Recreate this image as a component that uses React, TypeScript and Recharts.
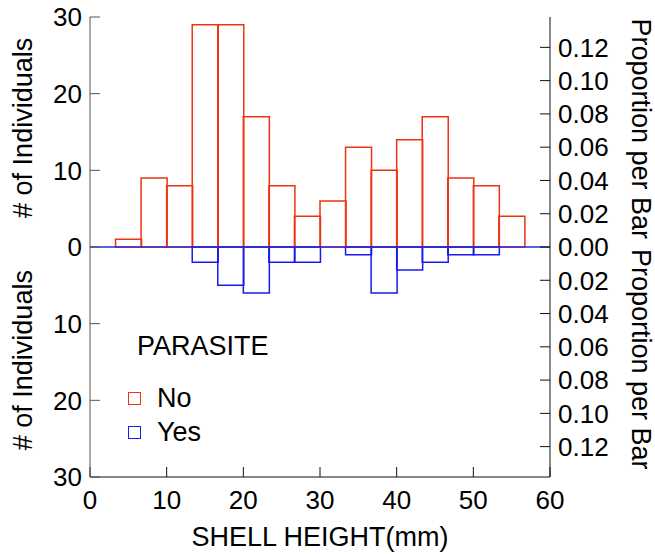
import {
  ComposedChart, Bar, XAxis, YAxis, ReferenceLine, Legend, Label,
} from "recharts";

// bin mid points of the shell-height histogram (bin width 10/3 mm)
const BIN_MID = [5, 8.333, 11.667, 15, 18.333, 21.667, 25, 28.333, 31.667, 35, 38.333, 41.667, 45, 48.333, 51.667, 55];
const NO_COUNTS = [1, 9, 8, 29, 29, 17, 8, 4, 6, 13, 10, 14, 17, 9, 8, 4];
const YES_COUNTS = [0, 0, 0, 2, 5, 6, 2, 2, 0, 1, 6, 3, 2, 1, 1, 0];

const X_TICKS = [0, 10, 20, 30, 40, 50, 60];
const COUNT_TICKS = [-30, -20, -10, 0, 10, 20, 30];
const PROP_TICKS = [-0.12, -0.1, -0.08, -0.06, -0.04, -0.02, 0, 0.02, 0.04, 0.06, 0.08, 0.1, 0.12];

const RED = "#ee3311";
const BLUE = "#1a1aee";
const FONT = "'Liberation Sans', Arial, sans-serif";

const TOTAL = [...NO_COUNTS, ...YES_COUNTS].reduce((a, b) => a + b, 0);

const data = BIN_MID.map((x, i) => ({ x, no: NO_COUNTS[i], yes: -YES_COUNTS[i] }));

const tickStyle = { fontSize: 26, fill: "#000", fontFamily: FONT };

// rotated axis title drawn inside the axis box
const sideTitle = (text: string, frac: number, cx: number, angle: number) => (props: any) => {
  const vb = props.viewBox ?? { y: 17, height: 460 };
  const cy = vb.y + vb.height * frac;
  return (
    <text
      x={cx} y={cy}
      transform={`rotate(${angle} ${cx} ${cy})`}
      textAnchor="middle" dominantBaseline="central"
      fontSize={27} fontFamily={FONT} fill="#000"
    >
      {text}
    </text>
  );
};

function ParasiteLegend() {
  const row = (label: string, color: string) => (
    <div style={{ display: "flex", alignItems: "center", height: 34 }}>
      <span style={{ width: 11, height: 11, border: `1.5px solid ${color}`, marginRight: 16 }} />
      <span>{label}</span>
    </div>
  );
  return (
    <div style={{ fontFamily: FONT, fontSize: 27, color: "#000", lineHeight: 1 }}>
      <div style={{ marginLeft: 9, marginBottom: 21 }}>PARASITE</div>
      {row("No", RED)}
      {row("Yes", BLUE)}
    </div>
  );
}

export default function App() {
  return (
    <div style={{ position: "absolute", left: 0, top: 0, background: "#fff" }}>
      <ComposedChart
        width={655}
        height={554}
        data={data}
        stackOffset="sign"
        barCategoryGap={0}
        barGap={0}
        margin={{ top: 17, right: 0, bottom: 0, left: 0 }}
        style={{ fontFamily: FONT }}
      >
        <XAxis
          dataKey="x" type="number" domain={[0, 60]} ticks={X_TICKS} interval={0}
          height={77} tickSize={-10} tickMargin={24}
          stroke="#111" tick={tickStyle} allowDataOverflow
        >
          <Label value="SHELL HEIGHT(mm)" position="insideBottom" offset={8}
            style={{ fontSize: 27, fill: "#000", fontFamily: FONT }} />
        </XAxis>
        <XAxis
          xAxisId="top" orientation="top" type="number" domain={[0, 60]} ticks={X_TICKS} interval={0}
          height={0} tickSize={-10} tickFormatter={() => ""} stroke="#111"
        />
        <YAxis
          type="number" domain={[-30, 30]} ticks={COUNT_TICKS} width={90} interval={0}
          tickSize={-10} tickMargin={18} stroke="#555" tick={tickStyle}
          tickFormatter={(v: number) => String(Math.abs(v))} allowDataOverflow
        >
          <Label content={sideTitle("# of Individuals", 0.241, 23, -90)} />
          <Label content={sideTitle("# of Individuals", 0.746, 23, -90)} />
        </YAxis>
        <YAxis
          yAxisId="prop" orientation="right" type="number" interval={0}
          domain={[-30 / TOTAL, 30 / TOTAL]} ticks={PROP_TICKS} width={105}
          tickSize={-10} tickMargin={18} stroke="#111" tick={tickStyle}
          tickFormatter={(v: number) => Math.abs(v).toFixed(2)} allowDataOverflow
        >
          <Label content={sideTitle("Proportion per Bar", 0.243, 641, 90)} />
          <Label content={sideTitle("Proportion per Bar", 0.744, 641, 90)} />
        </YAxis>
        <Bar dataKey="no" name="No" stackId="a" fill="none" stroke={RED} strokeWidth={1.5} isAnimationActive={false} />
        <Bar dataKey="yes" name="Yes" stackId="a" fill="none" stroke={BLUE} strokeWidth={1.5} isAnimationActive={false} />
        <ReferenceLine y={0} stroke="#2a2ad8" strokeWidth={1.5} />
        <Legend
          layout="horizontal" verticalAlign="middle" align="center"
          content={() => <ParasiteLegend />}
          wrapperStyle={{ position: "absolute", left: 128, top: 333, width: 200 }}
        />
      </ComposedChart>
    </div>
  );
}
